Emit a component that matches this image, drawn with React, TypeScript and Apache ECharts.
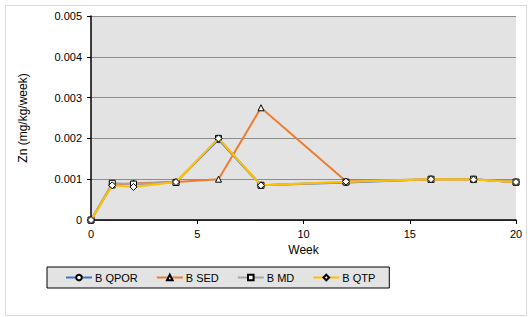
import React, { useEffect, useRef } from "react";
import * as echarts from "echarts";

const weeks = [0, 1, 2, 4, 6, 8, 12, 16, 18, 20];
const bQpor = [0, 0.00088, 0.00088, 0.00093, 0.00197, 0.00085, 0.00092, 0.001, 0.001, 0.00093];
const bSed = [0, 0.00086, 0.0009, 0.00093, 0.001, 0.00275, 0.00095, 0.001, 0.001, 0.00093];
const bMd = [0, 0.0009, 0.00088, 0.00092, 0.002, 0.00085, 0.00093, 0.001, 0.001, 0.00093];
const bQtp = [0, 0.00085, 0.00081, 0.00093, 0.002, 0.00085, 0.00094, 0.001, 0.00099, 0.00093];
const seriesNames = ["B QPOR", "B SED", "B MD", "B QTP"];
const seriesColors = ["#4472C4", "#ED7D31", "#A5A5A5", "#FFC000"];
const seriesSymbols = ["circle", "triangle", "rect", "diamond"];

export default function App() {
  const ref = useRef<HTMLDivElement>(null);
  useEffect(() => {
    if (!ref.current) return;
    const chart = echarts.init(ref.current, null, { renderer: "svg" });
    const all = [bQpor, bSed, bMd, bQtp];
    chart.setOption({
      animation: false,
      textStyle: { fontFamily: "Liberation Sans, Arial, sans-serif" },
      graphic: [
        {
          type: "rect",
          shape: { x: 5.5, y: 5.5, width: 521, height: 310 },
          style: { fill: "#fff", stroke: "#d9d9d9", lineWidth: 1 },
          z: -10,
        },
      ],
      grid: {
        left: 91,
        right: 16,
        top: 16,
        bottom: 97,
        show: true,
        backgroundColor: "#e3e3e3",
        borderWidth: 0,
      },
      legend: {
        left: 47,
        top: 267,
        itemGap: 18,
        itemWidth: 26,
        itemHeight: 7,
        padding: [5, 14, 5, 18],
        backgroundColor: "#e3e3e3",
        borderColor: "#000",
        borderWidth: 1,
        borderRadius: 0,
        textStyle: { color: "#000", fontSize: 11, padding: [0, 0, 0, -2] },
        data: seriesNames,
      },
      xAxis: {
        type: "value",
        min: 0,
        max: 20,
        interval: 5,
        name: "Week",
        nameLocation: "middle",
        nameGap: 19,
        nameTextStyle: { color: "#000", fontSize: 12 },
        axisLine: { show: true, onZero: false, lineStyle: { color: "#000", width: 1.5 } },
        axisTick: { show: true, length: 4, lineStyle: { color: "#000" } },
        axisLabel: { color: "#000", fontSize: 11, margin: 8 },
        splitLine: { show: false },
      },
      yAxis: {
        type: "value",
        min: 0,
        max: 0.005,
        interval: 0.001,
        name: "Zn (mg/kg/week)",
        nameLocation: "middle",
        nameGap: 62,
        nameTextStyle: { color: "#000", fontSize: 12 },
        axisLine: { show: true, lineStyle: { color: "#000", width: 1.5 } },
        axisTick: { show: true, length: 4, lineStyle: { color: "#000" } },
        axisLabel: {
          color: "#000",
          fontSize: 11,
          margin: 9,
          formatter: (v: number) => (v === 0 ? "0" : v.toFixed(3)),
        },
        splitLine: { show: true, lineStyle: { color: "#8c8c8c", width: 1 } },
      },
      series: seriesNames.map((name, i) => ({
        name,
        type: "line",
        data: weeks.map((w, j) => [w, all[i][j]]),
        symbol: seriesSymbols[i],
        symbolSize: i === 3 ? 7 : 6,
        showAllSymbol: true,
        lineStyle: { color: seriesColors[i], width: 2 },
        itemStyle: { color: "#fff", borderColor: "#000", borderWidth: 1 },
        z: 2 + i,
      })),
    });
    return () => chart.dispose();
  }, []);
  return (
    <div
      ref={ref}
      style={{ position: "absolute", left: 0, top: 0, width: 532, height: 317 }}
    />
  );
}
